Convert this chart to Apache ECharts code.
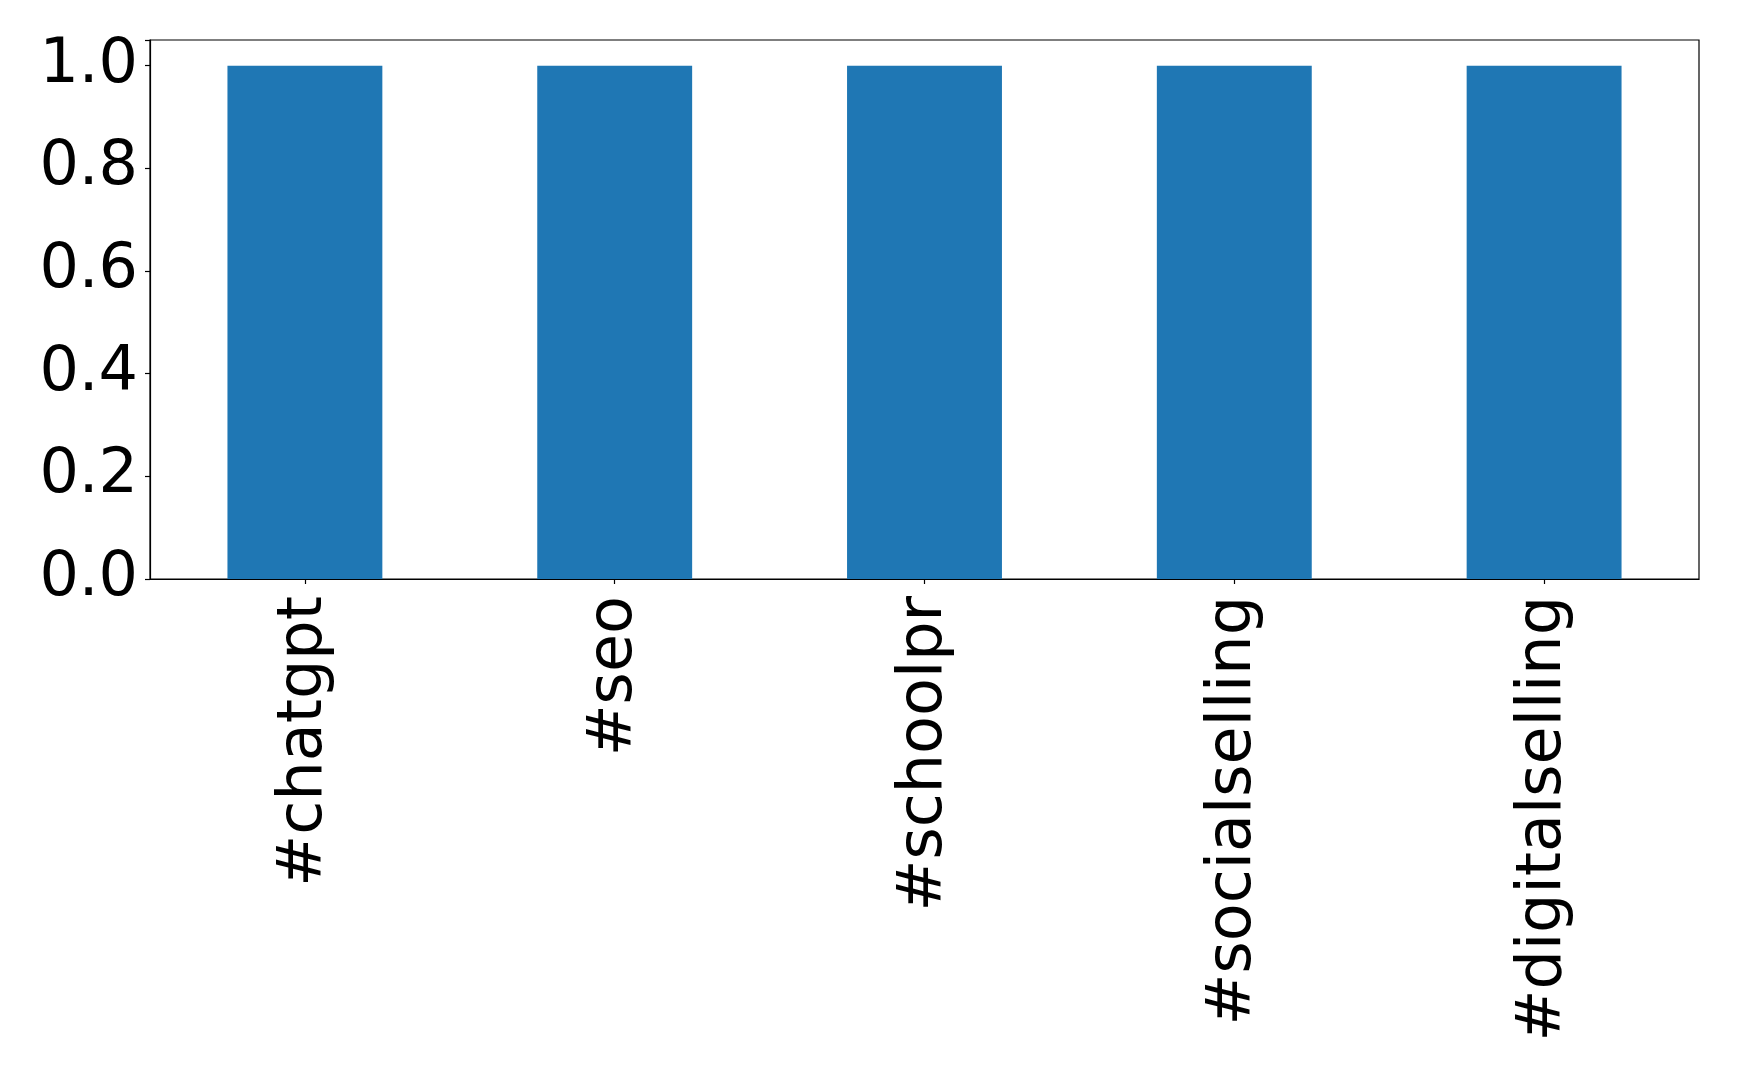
<!DOCTYPE html>
<html>
<head>
<meta charset="utf-8">
<script src="https://cdn.jsdelivr.net/npm/echarts@6/dist/echarts.min.js"></script>
<style>
html,body{margin:0;padding:0;background:#fff;}
#chart{width:1739px;height:1077px;}
</style>
</head>
<body>
<div id="chart"></div>
<script>
const categories = ['#chatgpt', '#seo', '#schoolpr', '#socialselling', '#digitalselling'];
const values = [1, 1, 1, 1, 1];
const yTicks = [0, 0.2, 0.4, 0.6, 0.8, 1.0];

const chart = echarts.init(document.getElementById('chart'), null, {renderer: 'canvas'});
const font = 'DejaVu Sans';
chart.setOption({
  backgroundColor: '#ffffff',
  animation: false,
  grid: {
    left: 150, right: 40, top: 40, bottom: 498,
    show: true, borderColor: '#000', borderWidth: 1.2, backgroundColor: 'transparent',
    containLabel: false
  },
  xAxis: {
    type: 'category',
    data: categories,
    boundaryGap: true,
    axisLine: {show: true, lineStyle: {color: '#000', width: 1.2}},
    axisTick: {show: true, alignWithLabel: true, length: 5, lineStyle: {color: '#000', width: 1.2}},
    axisLabel: {
      rotate: 90, margin: 17, color: '#000', fontFamily: font, fontSize: 62, interval: 0,
      padding: [6, 0, 0, 0]
    },
    splitLine: {show: false}
  },
  yAxis: {
    type: 'value',
    min: 0, max: 1.05, interval: 0.2,
    axisLine: {show: true, lineStyle: {color: '#000', width: 1.2}},
    axisTick: {show: true, length: 5, lineStyle: {color: '#000', width: 1.2}},
    axisLabel: {
      margin: 12, color: '#000', fontFamily: font, fontSize: 62,
      formatter: function (v) {
        for (const t of yTicks) { if (Math.abs(v - t) < 1e-6) return t.toFixed(1); }
        return '';
      }
    },
    splitLine: {show: false}
  },
  series: [{
    type: 'bar',
    data: values,
    barWidth: '50%',
    itemStyle: {color: '#1f77b4'}
  }]
});
</script>
</body>
</html>
